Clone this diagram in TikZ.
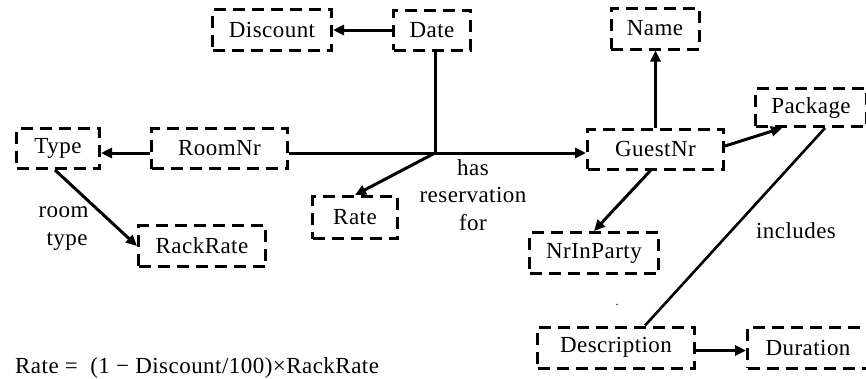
\documentclass[tikz,border=0pt]{standalone}
\usepackage{fontspec}
\setmainfont[LetterSpace=2]{Liberation Serif}
\usetikzlibrary{arrows.meta,calc}
\begin{document}
\begin{tikzpicture}[x=1pt,y=-1pt,
  attr/.style={draw, line width=3pt, dash pattern=on 12pt off 7pt,
    inner sep=0pt, font=\fontsize{23}{27}\selectfont},
  link/.style={line width=3pt, -{Triangle[length=11pt,width=10pt]}},
  plain/.style={line width=2.6pt},
  note/.style={inner sep=0pt, anchor=base, font=\fontsize{23}{27}\selectfont}]
\useasboundingbox (0,0) rectangle (866,378);
\clip (0,0) rectangle (866,378);

% attribute boxes
\node[attr, minimum width=119, minimum height=41] (Discount) at (272,30) {Discount};
\node[attr, minimum width=77, minimum height=40] (Date) at (432,30) {Date};
\node[attr, minimum width=83, minimum height=40] (Type) at (58,148.5) {Type};
\node[attr, minimum width=136, minimum height=40] (RoomNr) at (219.5,148.5) {RoomNr};
\node[attr, minimum width=88, minimum height=41] (Name) at (655,28.5) {Name};
\node[attr, minimum width=136, minimum height=40] (GuestNr) at (655.5,149) {GuestNr};
\node[attr, minimum width=111, minimum height=38] (Package) at (811,107.5) {Package};
\node[attr, minimum width=85, minimum height=42] (Rate) at (355,217.5) {Rate};
\node[attr, minimum width=127, minimum height=41] (RackRate) at (202,246) {RackRate};
\node[attr, minimum width=129, minimum height=41] (NrInParty) at (594,253) {NrInParty};
\node[attr, minimum width=157, minimum height=41] (Description) at (616,347.5) {Description};
\node[attr, minimum width=121, minimum height=41] (Duration) at (808,347.5) {Duration};

% junction of the reservation relationship
\coordinate (J) at (435,153);

% connectors
\draw[link] (Date.west) -- (Discount.east);
\draw[line width=3pt] (Date.south -| J) -- (J);
\draw[line width=3pt] (RoomNr.east |- J) -- (J);
\draw[link] (J) -- (GuestNr.west |- J);
\draw[link] (J) -- (Rate.north);
\draw[link] (RoomNr.west |- J) -- (Type.east |- J);
\draw[link] ([xshift=-3pt]Type.south) -- (RackRate.west);
\draw[link] (GuestNr.north) -- (GuestNr.north |- Name.south);
\draw[link] ([yshift=3pt]GuestNr.east) -- ([xshift=28pt]Package.south west);
\draw[link] ([xshift=-5pt]GuestNr.south) -- (NrInParty.north);
\draw[plain] ([xshift=14pt]Package.south) -- ([xshift=29pt]Description.north);
\draw[link] ([yshift=-3pt]Description.east) -- ([yshift=-3pt]Duration.west);

% relationship labels
\node[note] (room) at (63.5,217) {room};
\node[note] (type) at (67,245) {type};
\node[note] (has) at (473,175) {has};
\node[note] (reservation) at (473,202) {reservation};
\node[note] (for) at (473,230) {for};
\node[note] (includes) at (796,238) {includes};
\node[note, font=\fontsize{12}{14}\selectfont] (dot) at (617,305) {.};

% formula
\node[note, anchor=base west] (formula) at (15,373)
  {Rate = \ (1 − Discount/100)×RackRate};
\end{tikzpicture}
\end{document}
